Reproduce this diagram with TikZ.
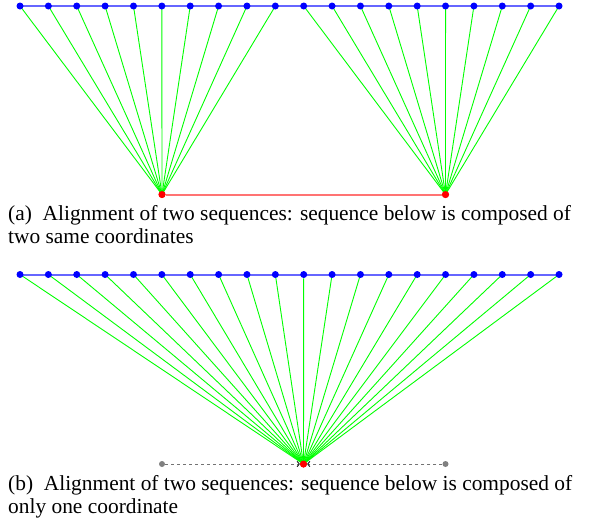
\documentclass[tikz,border=0pt]{standalone}
\usepackage{fontspec}
\setmainfont{Liberation Serif}
\usetikzlibrary{positioning,arrows.meta}

\tikzset{
  topdot/.style={circle,fill=blue,inner sep=0pt,minimum size=7pt},
  lowdot/.style={circle,fill=red,inner sep=0pt,minimum size=7pt},
  ghostdot/.style={circle,fill=gray,inner sep=0pt,minimum size=6pt},
  seqline/.style={blue!60,line width=2pt},
  matchline/.style={green,line width=0.9pt},
  shiftline/.style={gray!90!black,dashed,line width=1pt,-{To[black!85,width=6pt,length=3pt]}},
  caption/.style={anchor=base west,inner sep=0pt,font=\fontsize{21.4}{24}\selectfont}
}

\begin{document}
\begin{tikzpicture}[x=1pt,y=-1pt]

\useasboundingbox (0,0) rectangle (591,523);

% ============================
% (a) TWO SAME COORDINATES
% ============================

\foreach \i in {1,...,20} {
  \pgfmathsetmacro{\xx}{20+28.37*(\i-1)}
  \coordinate (a\i) at (\xx,6);
}
\node[lowdot] (pa) at (162,194.5) {};
\node[lowdot] (pb) at (445.5,194.5) {};

\draw[seqline] (a1) -- (a20);
\draw[red!55,line width=2pt] (pa) -- (pb);

% alignment lines
\foreach \i in {1,...,10} \draw[matchline] (a\i) -- (pa.center);
\foreach \i in {11,...,20} \draw[matchline] (a\i) -- (pb.center);

\foreach \i in {1,...,20} \node[topdot] at (a\i) {};
\node[lowdot] at (pa) {};
\node[lowdot] at (pb) {};

\node[caption] (capa) at (8,220)
  {(a)\enspace Alignment of two sequences: sequence below is composed of};
\node[caption] (capa2) at (8,243.5) {two same coordinates};

% ============================
% (b) ONLY ONE COORDINATE
% ============================

\foreach \i in {1,...,20} {
  \pgfmathsetmacro{\xx}{20+28.37*(\i-1)}
  \coordinate (b\i) at (\xx,274.5);
}
\node[lowdot] (pc) at (303.5,464) {};
\node[ghostdot] (ga) at (162,464) {};
\node[ghostdot] (gb) at (445.5,464) {};

\draw[seqline] (b1) -- (b20);

\foreach \i in {1,...,20} \draw[matchline] (b\i) -- (pc.center);

\draw[shiftline] (ga) -- (pc);
\draw[shiftline] (gb) -- (pc);

\foreach \i in {1,...,20} \node[topdot] at (b\i) {};
\node[lowdot] at (pc) {};

\node[caption] (capb) at (8,490)
  {(b)\enspace Alignment of two sequences: sequence below is composed of};
\node[caption] (capb2) at (8,513.5) {only one coordinate};

\end{tikzpicture}
\end{document}
